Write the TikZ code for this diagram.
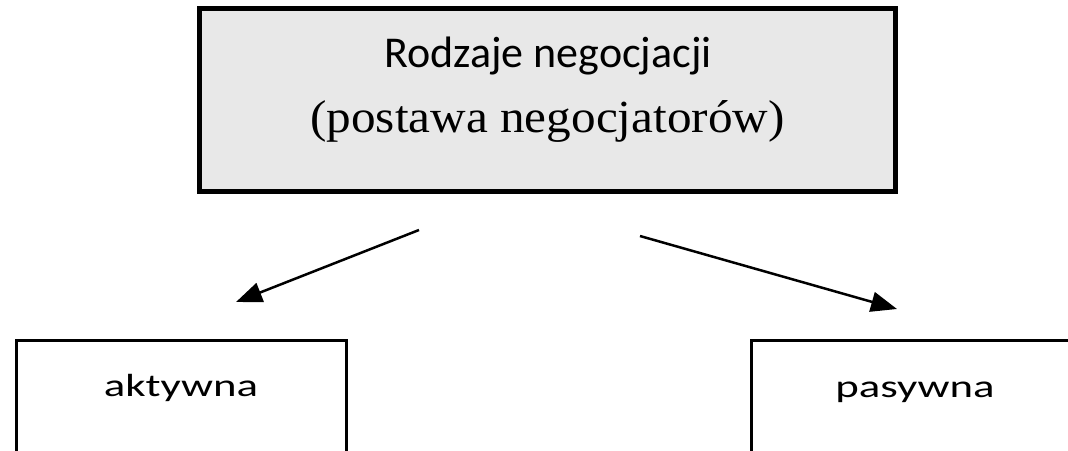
\documentclass[tikz,border=0pt]{standalone}
\usepackage{fontspec}
\setmainfont{Liberation Serif}
\newfontfamily\calib{Carlito}
\usetikzlibrary{arrows.meta}
\definecolor{boxgray}{RGB}{232,232,232}
\begin{document}
\begin{tikzpicture}[x=1pt,y=-1pt,
  mainbox/.style={draw=black, line width=5pt, fill=boxgray, minimum width=696pt, minimum height=183pt, inner sep=0pt},
  subbox/.style={draw=black, line width=3pt, fill=white, minimum width=330pt, minimum height=200pt, inner sep=0pt},
  lbl/.style={anchor=base, inner sep=0pt, text=black},
  conn/.style={line width=2.5pt, -{Triangle[length=26pt,width=20pt]}}]
\useasboundingbox (0,0) rectangle (1068,450);
\clip (0,0) rectangle (1068,450);
\fill[white] (0,0) rectangle (1068,450);
% top box
\node[mainbox] (top) at (547.5,100) {};
\node[lbl] (t1) at (548,67) {\calib\fontsize{44}{50}\selectfont Rodzaje negocjacji};
\node[lbl] (t2) at (547.5,132) {\fontsize{46}{52}\selectfont\scalebox{1.07}[1]{(postawa negocjatorów)}};
% bottom boxes
\node[subbox] (left) at (181.5,440) {};
\node[subbox] (right) at (916,440) {};
\node[lbl] (la) at (181,396) {\calib\fontsize{32}{38}\selectfont\scalebox{1.4}[1]{aktywna}};
\node[lbl] (lp) at (915,397) {\calib\fontsize{32}{38}\selectfont\scalebox{1.4}[1]{pasywna}};
% arrows
\coordinate (a1s) at (419,230);
\coordinate (a1e) at (236,302);
\coordinate (a2s) at (640,236);
\coordinate (a2e) at (897,309);
\draw[conn] (a1s) -- (a1e);
\draw[conn] (a2s) -- (a2e);
\end{tikzpicture}
\end{document}
